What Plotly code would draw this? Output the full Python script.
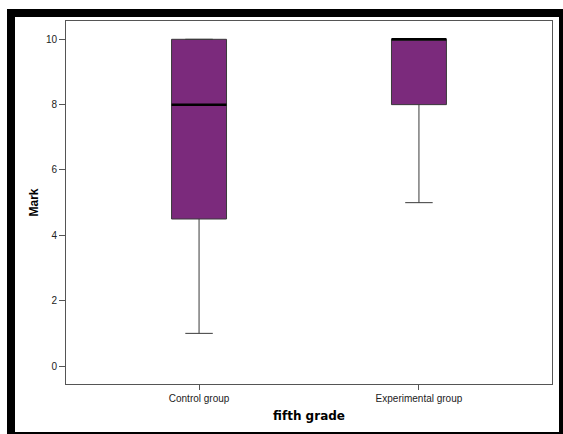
import plotly.graph_objects as go

# Group labels and five-number summaries of the marks
groups = ["Control group", "Experimental group"]
lower_whisker = [1, 5]
q1 = [4.5, 8]
median = [8, 10]
q3 = [10, 10]
upper_whisker = [10, 10]

y_ticks = [0, 2, 4, 6, 8, 10]

BOX_FILL = "#7B2A7C"
BOX_LINE = "#3a3a3a"
BOX_WIDTH = 0.25

xpos = list(range(len(groups)))

fig = go.Figure()
fig.add_trace(go.Box(
    x=xpos,
    q1=q1, median=median, q3=q3,
    lowerfence=lower_whisker, upperfence=upper_whisker,
    width=BOX_WIDTH,
    whiskerwidth=0.5,
    fillcolor=BOX_FILL,
    line=dict(color=BOX_LINE, width=1),
    boxpoints=False,
    hoverinfo="skip",
    showlegend=False,
))

# Heavier median bars drawn over each box
for x, m in zip(xpos, median):
    fig.add_trace(go.Scatter(
        x=[x - BOX_WIDTH / 2, x + BOX_WIDTH / 2], y=[m, m],
        mode="lines", line=dict(color="black", width=2.5),
        hoverinfo="skip", showlegend=False,
    ))

# Plot-area geometry in pixels (for the outer black frame)
W, H = 563, 434
L, R, T, B = 66, 552, 21, 384


def px_x(v):
    return (v - L) / (R - L)


def px_y(v):
    return (B - v) / (B - T)


frame = [
    (7, 9, 15, 434),    # left band
    (7, 9, 563, 17),    # top band
    (559, 9, 563, 434), # right band
    (7, 432, 563, 434), # bottom band
]
shapes = [
    dict(type="rect", xref="paper", yref="paper",
         x0=px_x(a), x1=px_x(c), y0=px_y(d), y1=px_y(b),
         fillcolor="black", line=dict(width=0), layer="above")
    for a, b, c, d in frame
]

axis_font = dict(family="Liberation Sans, Arial, sans-serif", size=10, color="#222")

fig.update_layout(
    width=W, height=H,
    margin=dict(l=L, r=W - R, t=T, b=H - B),
    paper_bgcolor="white", plot_bgcolor="white",
    shapes=shapes,
    xaxis=dict(
        range=[-0.605, 1.605],
        tickmode="array", tickvals=xpos, ticktext=groups,
        showgrid=False, zeroline=False,
        showline=True, linecolor="#555", linewidth=1, mirror=True,
        ticks="outside", ticklen=5, tickcolor="#555",
        tickfont=axis_font,
        title=dict(text="<b>fifth grade</b>", standoff=8,
                   font=dict(family="DejaVu Sans, Verdana, sans-serif", size=12, color="black")),
    ),
    yaxis=dict(
        range=[-0.55, 10.56],
        tickmode="array", tickvals=y_ticks,
        showgrid=False, zeroline=False,
        showline=True, linecolor="#555", linewidth=1, mirror=True,
        ticks="outside", ticklen=6, tickcolor="#555",
        tickfont=axis_font,
        title=dict(text="<b>Mark</b>", standoff=4,
                   font=dict(family="Liberation Sans, Arial, sans-serif", size=12, color="black")),
    ),
)

fig.write_html("out.html")
